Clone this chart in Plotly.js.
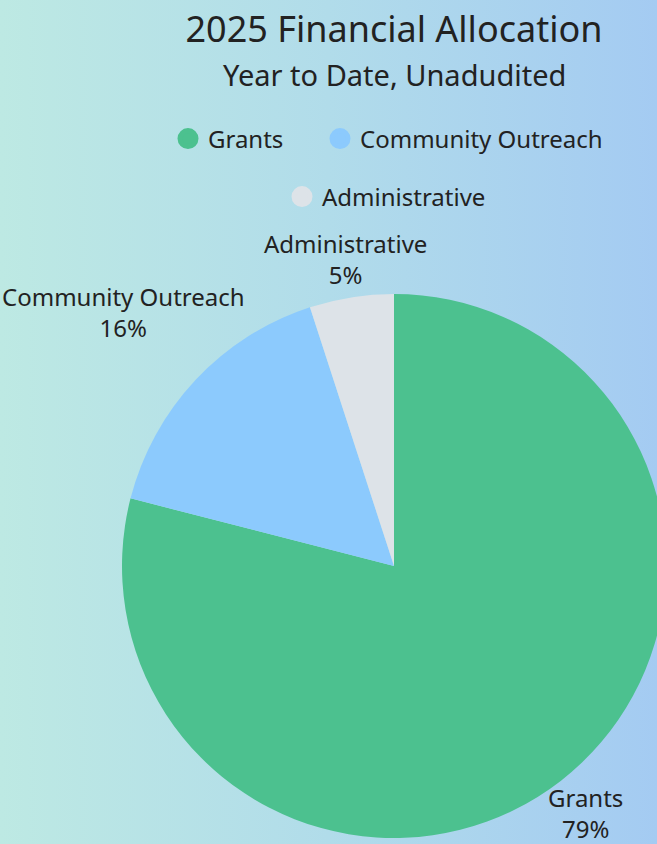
<!DOCTYPE html>
<html>
<head>
<meta charset="utf-8">
<script src="https://cdn.plot.ly/plotly-3.0.1.min.js"></script>
<style>
html, body { margin:0; padding:0; width:657px; height:844px; overflow:hidden;
  background: linear-gradient(to right, #bde9e3 0%, #b1dcea 50%, #a4cbf2 100%); }
#chart { width:700px; height:880px; }
</style>
</head>
<body>
<div id="chart"></div>
<script>
const categories = ["Grants", "Community Outreach", "Administrative"];
const values = [79, 16, 5];
const colors = ["#4cc18f", "#8ccafd", "#dde3e8"];
const titleText = "2025 Financial Allocation";
const subtitleText = "Year to Date, Unadudited";

const W = 700, H = 880;
const FONT = "Noto Sans, sans-serif";
const TXT = "#222222";
const LABEL_SIZE = 24;

// pie placement (layout)
const PIE_CX = 394, PIE_CY = 566, PIE_R = 272;

const pie = {
  type: "pie",
  labels: categories,
  values: values,
  marker: { colors: colors, line: { width: 0 } },
  sort: false,
  direction: "clockwise",
  rotation: 0,
  textinfo: "none",
  showlegend: false,
  hoverinfo: "label+percent",
  domain: { x: [(PIE_CX - PIE_R) / W, (PIE_CX + PIE_R) / W],
            y: [1 - (PIE_CY + PIE_R) / H, 1 - (PIE_CY - PIE_R) / H] }
};

// outside slice labels, placed along each slice's mid-angle
const ctx = document.createElement("canvas").getContext("2d");
ctx.font = LABEL_SIZE + "px 'Noto Sans'";
const total = values.reduce((a, b) => a + b, 0);
let cum = 0;
const labelAnns = categories.map((c, i) => {
  const frac = values[i] / total;
  const mid = (cum + frac / 2) * 2 * Math.PI;
  cum += frac;
  const pct = Math.round(frac * 100) + "%";
  const hw = Math.max(ctx.measureText(c).width, ctx.measureText(pct).width) / 2;
  const hh = LABEL_SIZE * 1.15;
  const dx = Math.sin(mid), dy = -Math.cos(mid);
  const ext = Math.sqrt((hw * dx) ** 2 + (hh * dy) ** 2);
  const r = PIE_R + 9 + ext;
  const px = PIE_CX + dx * r, py = PIE_CY + dy * r;
  return {
    text: c + "<br>" + pct, x: px / W, y: 1 - py / H, xref: "paper", yref: "paper",
    xanchor: "center", yanchor: "middle", align: "center", showarrow: false,
    font: { family: FONT, size: LABEL_SIZE, color: TXT }
  };
});

const subtitleAnn = {
  text: subtitleText, x: 394 / W, y: 1 - 75 / H, xref: "paper", yref: "paper",
  xanchor: "center", yanchor: "middle", showarrow: false,
  font: { family: FONT, size: 29, color: TXT }
};

const legendNames = ["legend", "legend2", "legend3"];
const legendTraces = categories.map((c, i) => ({
  type: "scatter", mode: "markers", x: [null], y: [null], name: c,
  marker: { color: colors[i], size: 22, symbol: "circle", line: { color: colors[i], width: 6 } },
  legend: legendNames[i],
  showlegend: true, hoverinfo: "skip"
}));

const legendCommon = {
  orientation: "h", xanchor: "left", yanchor: "middle", xref: "paper", yref: "paper",
  bgcolor: "rgba(0,0,0,0)", font: { family: FONT, size: 24, color: TXT },
  itemsizing: "trace", itemclick: false, itemdoubleclick: false
};

const layout = {
  width: W, height: H,
  margin: { l: 0, r: 0, t: 0, b: 0 },
  paper_bgcolor: "rgba(0,0,0,0)",
  plot_bgcolor: "rgba(0,0,0,0)",
  font: { family: FONT, color: TXT },
  title: {
    text: titleText,
    font: { family: FONT, size: 36, color: TXT },
    x: 394 / W, xanchor: "center", xref: "paper",
    y: 1 - 29 / H, yanchor: "middle", yref: "container"
  },
  xaxis: { visible: false, domain: [0, 0.01] },
  yaxis: { visible: false, domain: [0, 0.01] },
  legend: Object.assign({}, legendCommon, { x: (187 - 19) / W, y: 1 - 139 / H }),
  legend2: Object.assign({}, legendCommon, { x: (339 - 19) / W, y: 1 - 139 / H }),
  legend3: Object.assign({}, legendCommon, { x: (301 - 19) / W, y: 1 - 197 / H }),
  annotations: [subtitleAnn].concat(labelAnns),
  showlegend: true
};

Plotly.newPlot("chart", [pie].concat(legendTraces), layout, { displayModeBar: false, staticPlot: true });
</script>
</body>
</html>
